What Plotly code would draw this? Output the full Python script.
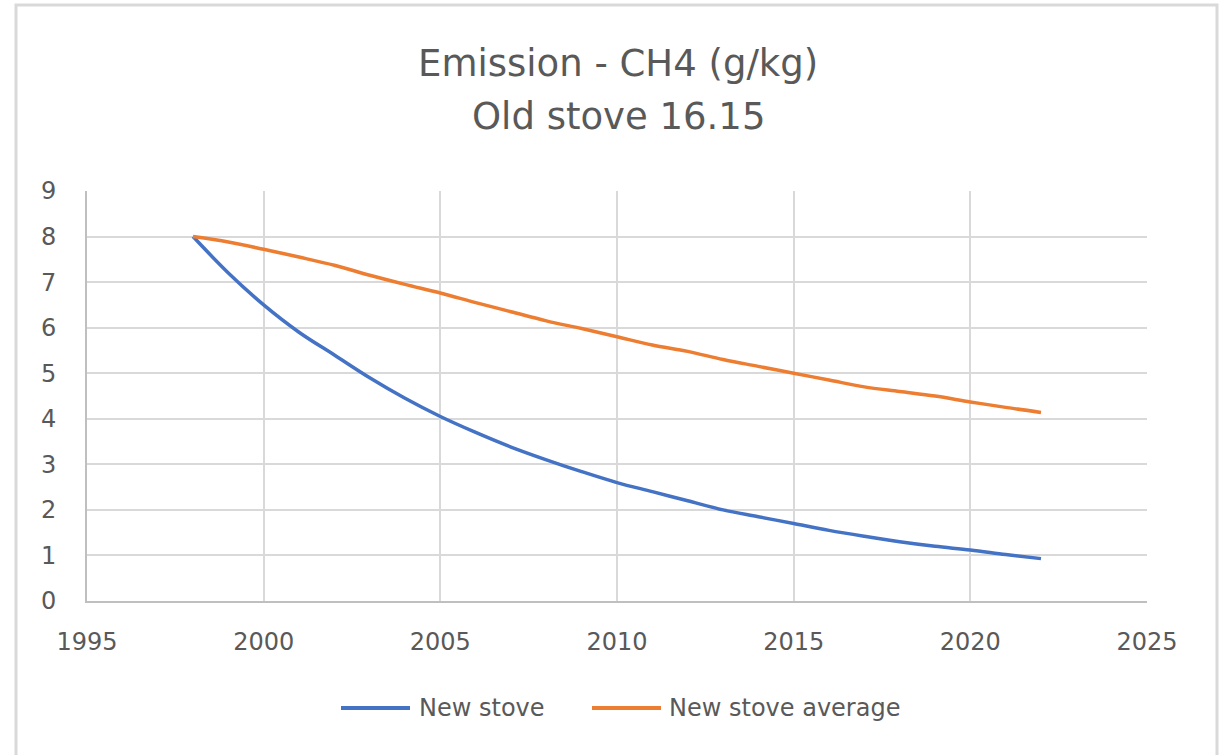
import plotly.graph_objects as go

years = list(range(1998, 2023))
new_stove = [8.0, 7.2, 6.5, 5.9, 5.4, 4.9, 4.45, 4.05, 3.7, 3.38, 3.1, 2.84, 2.6,
             2.4, 2.2, 2.0, 1.85, 1.7, 1.55, 1.42, 1.3, 1.2, 1.12, 1.02, 0.93]
new_stove_avg = [8.0, 7.88, 7.72, 7.55, 7.37, 7.15, 6.95, 6.76, 6.55, 6.35, 6.15, 5.98, 5.8,
                 5.62, 5.48, 5.3, 5.15, 5.0, 4.85, 4.7, 4.6, 4.5, 4.37, 4.25, 4.14]
x_ticks = [1995, 2000, 2005, 2010, 2015, 2020, 2025]
y_ticks = list(range(0, 10))
series_names = ["New stove", "New stove average"]
series_colors = ["#4472C4", "#ED7D31"]
title_lines = ["Emission - CH4 (g/kg)", "Old stove 16.15"]

FONT = "DejaVu Sans, sans-serif"
GREY_TXT = "#595959"

W, H = 1223, 755
ml, mr, mt, mb = 87, 76, 191, 154
pw = W - ml - mr
ph = H - mt - mb


def px(x):
    return (x - ml) / pw


def py(y):
    return (H - mb - y) / ph


fig = go.Figure()
for name, vals, col in zip(series_names, [new_stove, new_stove_avg], series_colors):
    fig.add_trace(go.Scatter(x=years, y=vals, mode="lines", name=name,
                             line=dict(color=col, width=3.5, shape="spline"),
                             showlegend=False))

fig.update_layout(
    width=W, height=H,
    margin=dict(l=ml, r=mr, t=mt, b=mb, pad=0),
    paper_bgcolor="white", plot_bgcolor="white",
    font=dict(family=FONT, color=GREY_TXT, size=24),
    xaxis=dict(range=[1995, 2025], tickvals=x_ticks, showgrid=True, gridcolor="#d9d9d9",
               gridwidth=2, showline=True, linecolor="#bfbfbf", linewidth=2,
               zeroline=False, ticks="", tickfont=dict(family=FONT, size=24, color=GREY_TXT),
               ticklabelstandoff=18),
    yaxis=dict(range=[0, 9], tickvals=y_ticks, showgrid=True, gridcolor="#d9d9d9",
               gridwidth=2, showline=True, linecolor="#bfbfbf", linewidth=2,
               zeroline=False, ticks="", tickfont=dict(family=FONT, size=24, color=GREY_TXT),
               ticklabelstandoff=24),
    showlegend=False,
)

# title (two lines)
for txt, yc in zip(title_lines, [64, 116]):
    fig.add_annotation(text=txt, xref="paper", yref="paper", x=px(618), y=py(yc),
                       xanchor="center", yanchor="middle", showarrow=False,
                       font=dict(family=FONT, size=37, color=GREY_TXT))

# legend (custom, Excel-like long line samples)
leg_y = 708
for name, col, (lx0, lx1, tx) in zip(series_names, series_colors,
                                     [(341, 410, 417), (592, 661, 667)]):
    fig.add_shape(type="line", xref="paper", yref="paper", x0=px(lx0), x1=px(lx1),
                  y0=py(leg_y), y1=py(leg_y), line=dict(color=col, width=4))
    fig.add_annotation(text=name, xref="paper", yref="paper", x=px(tx), y=py(leg_y),
                       xanchor="left", yanchor="middle", showarrow=False,
                       font=dict(family=FONT, size=24, color=GREY_TXT))

# outer chart border
fig.add_shape(type="rect", xref="paper", yref="paper", x0=px(16), x1=px(1217),
              y0=py(800), y1=py(5),
              line=dict(color="#d9d9d9", width=3), fillcolor="rgba(0,0,0,0)", layer="below")

fig.write_html("out.html", config={"displayModeBar": False},
               post_script="document.body.style.margin='0px';document.body.style.overflow='hidden';")
